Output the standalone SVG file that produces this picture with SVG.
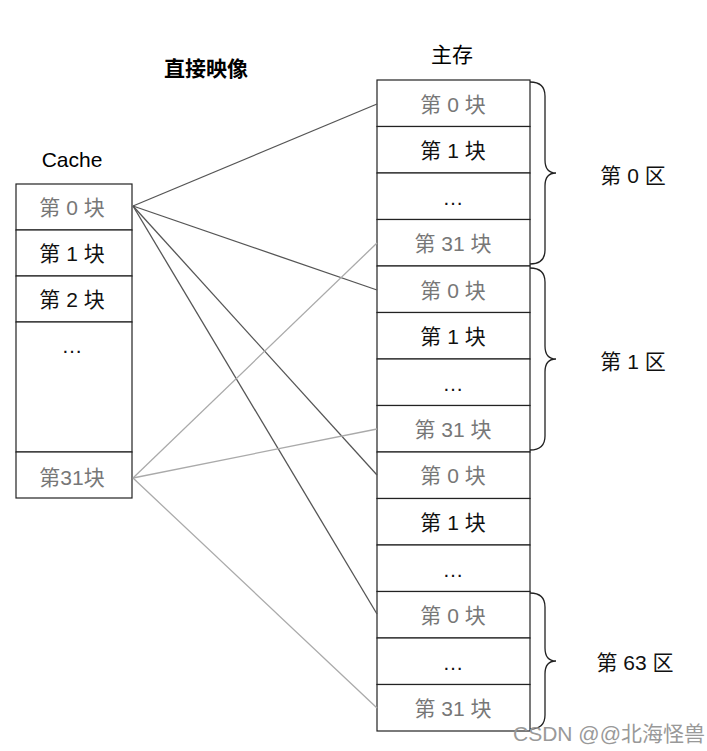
<svg xmlns="http://www.w3.org/2000/svg" width="707" height="751" viewBox="0 0 707 751">
<style>
text{font-family:"Liberation Sans","Noto Sans CJK SC",sans-serif;font-size:21px;text-anchor:middle;dominant-baseline:central}
.c{fill:#fff;stroke:#222;stroke-width:1.2}
.g{fill:#777}
.k{fill:#111}
.b{fill:none;stroke:#222;stroke-width:1.3}
</style>
<rect width="707" height="751" fill="#fff"/>
<text x="206" y="68" font-weight="bold" font-size="23">直接映像</text>
<text x="452" y="54">主存</text>
<text x="72" y="159">Cache</text>
<g id="cache">
<rect class="c" x="16" y="184" width="116" height="46"/><text class="g" x="72" y="207">第 0 块</text>
<rect class="c" x="16" y="230" width="116" height="46"/><text class="k" x="72" y="253">第 1 块</text>
<rect class="c" x="16" y="276" width="116" height="46"/><text class="k" x="72" y="299">第 2 块</text>
<rect class="c" x="16" y="322" width="116" height="130"/><text class="k" x="72" y="345">…</text>
<rect class="c" x="16" y="452" width="116" height="46"/><text class="g" x="72" y="477">第31块</text>
</g>
<g id="memory">
<rect class="c" x="377" y="80" width="153" height="46.5"/><text class="g" x="453" y="104">第 0 块</text>
<rect class="c" x="377" y="126.5" width="153" height="46.5"/><text class="k" x="453" y="150">第 1 块</text>
<rect class="c" x="377" y="173" width="153" height="46.5"/><text class="k" x="453" y="197">…</text>
<rect class="c" x="377" y="219.5" width="153" height="46.5"/><text class="g" x="453" y="243">第 31 块</text>
<rect class="c" x="377" y="266" width="153" height="46.5"/><text class="g" x="453" y="290">第 0 块</text>
<rect class="c" x="377" y="312.5" width="153" height="46.5"/><text class="k" x="453" y="336">第 1 块</text>
<rect class="c" x="377" y="359" width="153" height="46.5"/><text class="k" x="453" y="383">…</text>
<rect class="c" x="377" y="405.5" width="153" height="46.5"/><text class="g" x="453" y="429">第 31 块</text>
<rect class="c" x="377" y="452" width="153" height="46.5"/><text class="g" x="453" y="475">第 0 块</text>
<rect class="c" x="377" y="498.5" width="153" height="46.5"/><text class="k" x="453" y="522">第 1 块</text>
<rect class="c" x="377" y="545" width="153" height="46.5"/><text class="k" x="453" y="569">…</text>
<rect class="c" x="377" y="591.5" width="153" height="46.5"/><text class="g" x="453" y="615">第 0 块</text>
<rect class="c" x="377" y="638" width="153" height="46.5"/><text class="k" x="453" y="662">…</text>
<rect class="c" x="377" y="684.5" width="153" height="46.5"/><text class="g" x="453" y="708">第 31 块</text>
</g>
<g id="connectors" stroke-width="1.3" fill="none">
<g stroke="#555">
<line x1="133" y1="206" x2="377" y2="104"/>
<line x1="133" y1="206" x2="377" y2="290"/>
<line x1="133" y1="206" x2="377" y2="475"/>
<line x1="133" y1="206" x2="377" y2="614"/>
</g>
<g stroke="#aaa">
<line x1="133" y1="478" x2="377" y2="243"/>
<line x1="133" y1="478" x2="377" y2="429"/>
<line x1="133" y1="478" x2="377" y2="708"/>
</g>
</g>
<g id="braces">
<path class="b" d="M530 82 Q545 82 545 96 L545 160 Q545 173 556 173 Q545 173 545 186 L545 250 Q545 264 530 264"/>
<text class="k" x="633" y="175">第 0 区</text>
<path class="b" d="M530 268 Q545 268 545 282 L545 346 Q545 359 556 359 Q545 359 545 372 L545 436 Q545 450 530 450"/>
<text class="k" x="633" y="361">第 1 区</text>
<path class="b" d="M530 593 Q545 593 545 607 L545 648 Q545 661 556 661 Q545 661 545 674 L545 715 Q545 729 530 729"/>
<text class="k" x="635" y="662">第 63 区</text>
</g>
<text x="609" y="733" font-size="15" fill="#999">CSDN @@北海怪兽</text>
</svg>
